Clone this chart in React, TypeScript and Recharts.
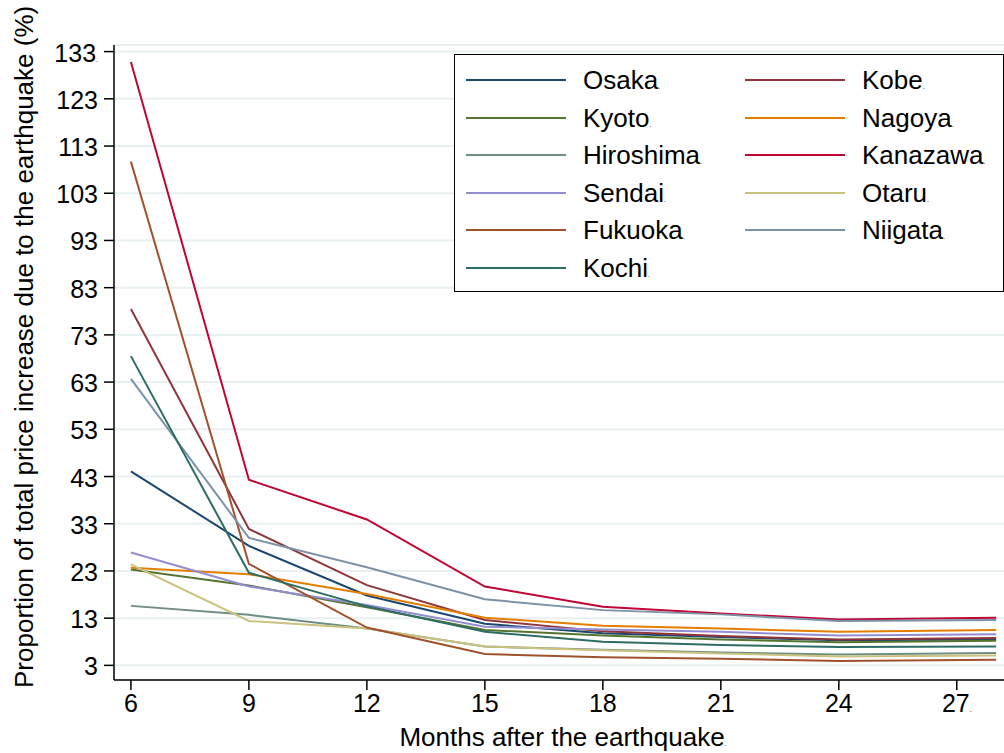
import React from 'react';
import { LineChart, Line, XAxis, YAxis, CartesianGrid, Legend, Label } from 'recharts';

const months = [6, 9, 12, 15, 18, 21, 24, 28];

const osaka = [44.1, 28.3, 17.8, 11.8, 9.8, 9.0, 8.3, 8.5];
const kobe = [78.5, 31.9, 20.0, 12.6, 10.2, 9.2, 8.5, 8.8];
const kyoto = [23.3, 19.9, 15.3, 10.5, 9.3, 8.5, 7.9, 8.2];
const nagoya = [23.7, 22.3, 18.1, 13.1, 11.4, 10.8, 10.1, 10.5];
const hiroshima = [15.6, 13.7, 10.8, 7.0, 6.3, 5.7, 5.3, 5.6];
const kanazawa = [130.8, 42.3, 33.9, 19.7, 15.4, 14.0, 12.7, 13.1];
const sendai = [26.9, 19.7, 15.8, 11.2, 10.6, 10.1, 9.3, 9.6];
const otaru = [24.4, 12.4, 10.8, 7.0, 6.2, 5.5, 4.9, 5.1];
const fukuoka = [109.7, 24.5, 11.0, 5.4, 4.7, 4.4, 3.9, 4.2];
const niigata = [63.7, 30.0, 23.8, 17.0, 14.7, 13.8, 12.4, 12.6];
const kochi = [68.5, 22.6, 15.5, 10.1, 8.0, 7.3, 6.9, 7.0];

const seriesNames = ['Osaka', 'Kobe', 'Kyoto', 'Nagoya', 'Hiroshima', 'Kanazawa', 'Sendai', 'Otaru', 'Fukuoka', 'Niigata', 'Kochi'];
const seriesValues = [osaka, kobe, kyoto, nagoya, hiroshima, kanazawa, sendai, otaru, fukuoka, niigata, kochi];
const seriesColors = ['#1a476f', '#90353b', '#55752f', '#e37e00', '#6e8e84', '#c10534', '#938dd2', '#cac27e', '#a0522d', '#7b92a8', '#2d6d66'];

const yTicks = [3, 13, 23, 33, 43, 53, 63, 73, 83, 93, 103, 113, 123, 133];
const xTicks = [6, 9, 12, 15, 18, 21, 24, 27];

const xTitle = 'Months after the earthquake';
const yTitle = 'Proportion of total price increase due to the earthquake (%)';

const data = months.map((m, i) => {
  const row: Record<string, number> = { month: m };
  seriesNames.forEach((n, k) => {
    row[n] = seriesValues[k][i];
  });
  return row;
});

const FONT = '"Liberation Sans", Arial, Helvetica, sans-serif';

const XTick = (props: any) => {
  const { x, y, payload } = props;
  const last = payload.value === xTicks[xTicks.length - 1];
  return (
    <text x={x} y={y} dy={20} textAnchor="middle" fontSize={25} fill="#000" fontFamily={FONT}>
      {payload.value}
      {last && <tspan fontSize={7}>.</tspan>}
    </text>
  );
};

const YTick = (props: any) => {
  const { x, y, payload } = props;
  const last = payload.value === yTicks[yTicks.length - 1];
  return (
    <text x={x - 4} y={y} dy={10} textAnchor="end" fontSize={25} fill="#000" fontFamily={FONT}>
      {payload.value}
      {last && <tspan fontSize={7}>.</tspan>}
    </text>
  );
};

const XTitle = (props: any) => {
  const vb = props.viewBox;
  return (
    <text x={vb.x + vb.width / 2 + 4} y={vb.y + 66} textAnchor="middle" fontSize={26} fill="#000" fontFamily={FONT}>
      {xTitle}
      <tspan fontSize={7}>.</tspan>
    </text>
  );
};

const YTitle = (props: any) => {
  const vb = props.viewBox;
  const cx = vb.x + 33;
  const cy = vb.y + vb.height + 8;
  return (
    <text x={cx} y={cy} transform={`rotate(-90 ${cx} ${cy})`} textAnchor="start" fontSize={26} fill="#000" fontFamily={FONT}>
      {yTitle}
    </text>
  );
};

const LegendBox = () => {
  return (
    <div
      style={{
        position: 'relative',
        width: 550,
        height: 238,
        boxSizing: 'border-box',
        border: '1.5px solid #000',
        background: '#fff',
        fontFamily: FONT,
      }}
    >
      {seriesNames.map((name, i) => {
        const col = i % 2;
        const row = Math.floor(i / 2);
        const cy = 25 + row * 37.5;
        const left = 11 + col * 279;
        return (
          <React.Fragment key={name}>
            <div
              style={{
                position: 'absolute',
                left,
                top: cy - 1,
                width: 100,
                height: 2,
                background: seriesColors[i],
              }}
            />
            <div
              style={{
                position: 'absolute',
                left: left + 117,
                top: cy - 13,
                fontSize: 26,
                lineHeight: '26px',
                color: '#000',
                whiteSpace: 'nowrap',
              }}
            >
              {name}
              <span style={{ fontSize: 7 }}>.</span>
            </div>
          </React.Fragment>
        );
      })}
    </div>
  );
};

export default function App() {
  return (
    <div style={{ position: 'absolute', left: 0, top: 0, width: 1004, height: 753, overflow: 'hidden', background: '#fff' }}>
      <LineChart width={1004} height={753} data={data} margin={{ top: 45, right: 0, bottom: 0, left: 0 }} style={{ fontFamily: FONT }}>
        <CartesianGrid vertical={false} stroke="#e8f0f2" strokeWidth={2} />
        <XAxis
          dataKey="month"
          type="number"
          domain={[5.57, 28.2]}
          ticks={xTicks}
          allowDataOverflow
          height={73}
          tickSize={10}
          axisLine={{ stroke: '#000', strokeWidth: 1.5 }}
          tickLine={{ stroke: '#000', strokeWidth: 1.5 }}
          tick={<XTick />}
          interval={0}
        >
          <Label content={<XTitle />} position="bottom" />
        </XAxis>
        <YAxis
          type="number"
          domain={[-0.1, 134.4]}
          ticks={yTicks}
          allowDataOverflow
          width={114}
          tickSize={10}
          axisLine={{ stroke: '#000', strokeWidth: 1.5 }}
          tickLine={{ stroke: '#000', strokeWidth: 1.5 }}
          tick={<YTick />}
          interval={0}
        >
          <Label content={<YTitle />} position="left" />
        </YAxis>
        <Legend
          layout="horizontal"
          verticalAlign="middle"
          align="center"
          wrapperStyle={{ position: 'absolute', left: 454, top: 54, width: 550, height: 238 }}
          content={<LegendBox />}
        />
        {seriesNames.map((name, i) => (
          <Line
            key={name}
            type="linear"
            dataKey={name}
            stroke={seriesColors[i]}
            strokeWidth={2}
            dot={false}
            activeDot={false}
            isAnimationActive={false}
          />
        ))}
      </LineChart>
    </div>
  );
}
